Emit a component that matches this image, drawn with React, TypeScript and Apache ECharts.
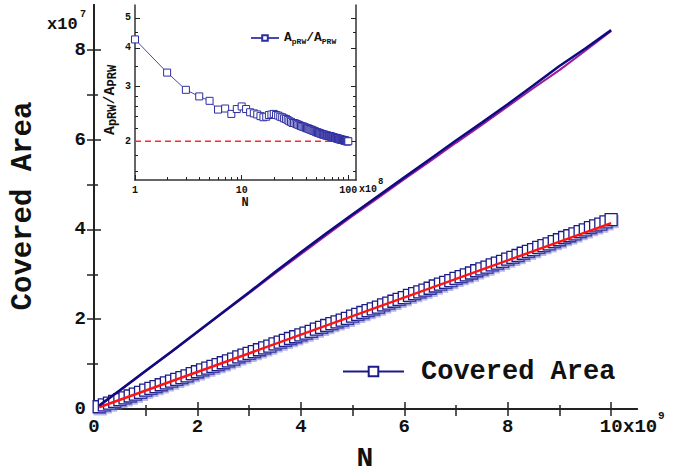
import React, { useEffect, useRef } from 'react';
import * as echarts from 'echarts';

const FONT = '"Liberation Mono", "Courier New", monospace';

// Main plot: N in units of 1e9, covered area in units of 1e7
const N_MAIN = [
  0.1, 0.2, 0.3, 0.4, 0.5, 0.6, 0.7, 0.8, 0.9, 1.0,
  1.1, 1.2, 1.3, 1.4, 1.5, 1.6, 1.7, 1.8, 1.9, 2.0,
  2.1, 2.2, 2.3, 2.4, 2.5, 2.6, 2.7, 2.8, 2.9, 3.0,
  3.1, 3.2, 3.3, 3.4, 3.5, 3.6, 3.7, 3.8, 3.9, 4.0,
  4.1, 4.2, 4.3, 4.4, 4.5, 4.6, 4.7, 4.8, 4.9, 5.0,
  5.1, 5.2, 5.3, 5.4, 5.5, 5.6, 5.7, 5.8, 5.9, 6.0,
  6.1, 6.2, 6.3, 6.4, 6.5, 6.6, 6.7, 6.8, 6.9, 7.0,
  7.1, 7.2, 7.3, 7.4, 7.5, 7.6, 7.7, 7.8, 7.9, 8.0,
  8.1, 8.2, 8.3, 8.4, 8.5, 8.6, 8.7, 8.8, 8.9, 9.0,
  9.1, 9.2, 9.3, 9.4, 9.5, 9.6, 9.7, 9.8, 9.9, 10.0,
];
const AREA = [
  0.05, 0.09, 0.13, 0.17, 0.21, 0.25, 0.29, 0.33, 0.37, 0.42,
  0.46, 0.50, 0.54, 0.58, 0.62, 0.66, 0.70, 0.74, 0.79, 0.83,
  0.87, 0.91, 0.95, 0.99, 1.03, 1.07, 1.11, 1.16, 1.20, 1.24,
  1.28, 1.32, 1.36, 1.40, 1.45, 1.49, 1.53, 1.57, 1.61, 1.65,
  1.69, 1.73, 1.78, 1.82, 1.86, 1.90, 1.94, 1.98, 2.02, 2.07,
  2.11, 2.15, 2.19, 2.23, 2.27, 2.32, 2.36, 2.40, 2.44, 2.48,
  2.53, 2.57, 2.61, 2.65, 2.69, 2.74, 2.78, 2.82, 2.86, 2.91,
  2.95, 2.99, 3.03, 3.08, 3.12, 3.16, 3.21, 3.25, 3.29, 3.34,
  3.38, 3.42, 3.47, 3.51, 3.55, 3.60, 3.64, 3.68, 3.73, 3.77,
  3.82, 3.86, 3.90, 3.95, 3.99, 4.04, 4.08, 4.12, 4.17, 4.22,
];
const FIT_X = [0.1, 10.0];
const FIT_Y = [0.04, 4.14];

const UPPER_X = [0.1, 0.5, 1, 1.5, 2, 2.5, 3, 3.5, 4, 4.5, 5, 5.5, 6, 6.5, 7, 7.5, 8, 8.5, 9, 9.5, 10];
const NAVY_Y = [0.08, 0.42, 0.85, 1.28, 1.72, 2.16, 2.60, 3.05, 3.49, 3.92, 4.34, 4.75, 5.16, 5.57, 5.98, 6.38, 6.79, 7.21, 7.64, 8.03, 8.44];
const PURPLE_Y = [0.07, 0.41, 0.84, 1.27, 1.71, 2.15, 2.58, 3.02, 3.45, 3.88, 4.30, 4.71, 5.12, 5.52, 5.93, 6.33, 6.74, 7.15, 7.55, 7.98, 8.42];

// Inset: N in units of 1e8, ratio A_pRW / A_PRW
const INSET_N = [
  1, 2, 3, 4, 5, 6, 7, 8, 9, 10,
  11, 12, 13, 14, 15, 16, 17, 18, 19, 20,
  21, 22, 23, 24, 25, 26, 27, 28, 29, 30,
  31, 32, 33, 34, 35, 36, 37, 38, 39, 40,
  41, 42, 43, 44, 45, 46, 47, 48, 49, 50,
  51, 52, 53, 54, 55, 56, 57, 58, 59, 60,
  61, 62, 63, 64, 65, 66, 67, 68, 69, 70,
  71, 72, 73, 74, 75, 76, 77, 78, 79, 80,
  81, 82, 83, 84, 85, 86, 87, 88, 89, 90,
  91, 92, 93, 94, 95, 96, 97, 98, 99, 100,
];
const RATIO = [
  4.26, 3.33, 2.93, 2.79, 2.70, 2.53, 2.55, 2.45, 2.54, 2.59,
  2.54, 2.48, 2.46, 2.44, 2.41, 2.39, 2.40, 2.43, 2.44, 2.45,
  2.43, 2.42, 2.40, 2.39, 2.37, 2.36, 2.34, 2.32, 2.31, 2.29,
  2.29, 2.28, 2.27, 2.26, 2.25, 2.24, 2.23, 2.23, 2.22, 2.21,
  2.20, 2.20, 2.19, 2.18, 2.18, 2.17, 2.16, 2.16, 2.15, 2.14,
  2.14, 2.13, 2.13, 2.12, 2.12, 2.11, 2.11, 2.10, 2.10, 2.10,
  2.09, 2.09, 2.09, 2.08, 2.08, 2.08, 2.08, 2.07, 2.07, 2.07,
  2.06, 2.06, 2.06, 2.05, 2.05, 2.05, 2.05, 2.04, 2.04, 2.04,
  2.04, 2.03, 2.03, 2.03, 2.03, 2.02, 2.02, 2.02, 2.02, 2.02,
  2.01, 2.01, 2.01, 2.01, 2.01, 2.00, 2.00, 2.00, 2.00, 2.00,
];
const REF_N = [1, 100];
const REF_Y = [2, 2];

const X_MAJOR = [0, 2, 4, 6, 8, 10];
const X_MINOR = [1, 3, 5, 7, 9];
const X_TOP = [1, 2, 3, 4, 5, 6, 7, 8, 9, 10];
const Y_MAJOR = [0, 2, 4, 6, 8];
const Y_MINOR = [1, 3, 5, 7];
const Y_RIGHT = [1, 2, 3, 4, 5, 6, 7, 8];
const IX_MAJOR = [1, 10, 100];
const IX_MINOR = [2, 3, 4, 5, 6, 7, 8, 9, 20, 30, 40, 50, 60, 70, 80, 90];
const IY_MAJOR = [2, 3, 4, 5];
const IY_MINOR = [1.6, 1.8, 2.2, 2.4, 2.6, 2.8, 3.5, 4.5];

const INK = '#222';
const NAVY = '#1c1c88';

function tickAxis(extra: any, values: number[], length: number, width = 1.5) {
  return {
    splitLine: { show: false },
    axisLine: { show: false },
    axisLabel: { show: false },
    axisTick: { show: true, inside: true, length, customValues: values, lineStyle: { color: INK, width } },
    ...extra,
  };
}

const mainLabel = { fontFamily: FONT, fontWeight: 'bold', fontSize: 19, color: '#111' };
const insetLabel = { fontFamily: FONT, fontWeight: 'bold', fontSize: 10, color: '#111' };

export default function App() {
  const ref = useRef<HTMLDivElement>(null);
  useEffect(() => {
    const chart = echarts.init(ref.current!, null, { renderer: 'svg' });
    const option: any = {
      animation: false,
      backgroundColor: '#fff',
      grid: [
        { left: 94, top: 5, width: 543, height: 404, show: false },
        { left: 135, top: 5, width: 221, height: 175, show: true, backgroundColor: '#fff', borderWidth: 0 },
      ],
      xAxis: [
        tickAxis({ type: 'value', gridIndex: 0, position: 'bottom', min: 0, max: 10.5,
          axisLine: { show: true, lineStyle: { color: INK, width: 2 } },
          axisLabel: { show: true, customValues: X_MAJOR, margin: 8, ...mainLabel } }, X_MAJOR, 7),
        tickAxis({ type: 'value', gridIndex: 0, position: 'bottom', min: 0, max: 10.5 }, X_MINOR, 4),
        tickAxis({ type: 'value', gridIndex: 0, position: 'top', min: 0, max: 10.5,
          axisLine: { show: true, lineStyle: { color: INK, width: 2 } } }, X_TOP, 7),
        tickAxis({ type: 'log', logBase: 10, gridIndex: 1, position: 'bottom', min: 1, max: 118,
          axisLine: { show: true, lineStyle: { color: '#333', width: 1.5 } },
          axisLabel: { show: true, customValues: IX_MAJOR, margin: 5, ...insetLabel } }, IX_MAJOR, 5, 1),
        tickAxis({ type: 'log', logBase: 10, gridIndex: 1, position: 'bottom', min: 1, max: 118 }, IX_MINOR, 3, 1),
      ],
      yAxis: [
        tickAxis({ type: 'value', gridIndex: 0, position: 'left', min: 0, max: 9,
          axisLine: { show: true, lineStyle: { color: INK, width: 2 } },
          axisLabel: { show: true, customValues: Y_MAJOR, margin: 8, ...mainLabel } }, Y_MAJOR, 7),
        tickAxis({ type: 'value', gridIndex: 0, position: 'left', min: 0, max: 9 }, Y_MINOR, 4),
        tickAxis({ type: 'value', gridIndex: 0, position: 'right', min: 0, max: 9,
          axisLine: { show: true, lineStyle: { color: INK, width: 2 } } }, Y_RIGHT, 7),
        tickAxis({ type: 'log', logBase: 10, gridIndex: 1, position: 'left', min: 1.5, max: 5.5,
          axisLine: { show: true, lineStyle: { color: '#333', width: 1.5 } },
          axisLabel: { show: true, customValues: IY_MAJOR, margin: 4, ...insetLabel } }, IY_MAJOR, 5, 1),
        tickAxis({ type: 'log', logBase: 10, gridIndex: 1, position: 'left', min: 1.5, max: 5.5 }, IY_MINOR, 3, 1),
        tickAxis({ type: 'log', logBase: 10, gridIndex: 1, position: 'right', min: 1.5, max: 5.5,
          axisLine: { show: true, lineStyle: { color: '#333', width: 1.5 } } }, IY_MAJOR, 5, 1),
        tickAxis({ type: 'log', logBase: 10, gridIndex: 1, position: 'right', min: 1.5, max: 5.5 }, IY_MINOR, 3, 1),
      ],
      legend: [
        {
          data: ['Covered Area'], left: 342, top: 358, padding: 0, selectedMode: false,
          itemWidth: 61, itemHeight: 12,
          formatter: '{t|Covered Area}',
          textStyle: { rich: { t: { fontFamily: FONT, fontWeight: 'bold', fontSize: 27, color: '#111', padding: [0, 0, 0, 12] } } },
        },
        {
          data: ['ApRW/APRW'], left: 250, top: 28, padding: 0, selectedMode: false,
          itemWidth: 28, itemHeight: 7,
          formatter: () => '{a|A}{s|pRW}{a|/A}{s|PRW}',
          textStyle: {
            rich: {
              a: { fontFamily: FONT, fontWeight: 'bold', fontSize: 13, color: '#111', lineHeight: 14, verticalAlign: 'top' },
              s: { fontFamily: FONT, fontWeight: 'bold', fontSize: 8, color: '#111', lineHeight: 8, verticalAlign: 'bottom', padding: [9, 0, 0, 0] },
            },
          },
        },
      ],
      series: [
        {
          type: 'line', name: 'Covered Area', xAxisIndex: 0, yAxisIndex: 0,
          data: N_MAIN.map((x, i) => [x, AREA[i]]),
          symbol: 'rect', symbolSize: 12, showSymbol: true,
          itemStyle: { color: '#fff', borderColor: NAVY, borderWidth: 1.3, shadowColor: 'rgba(100,100,200,0.45)', shadowOffsetX: 1, shadowOffsetY: 2, shadowBlur: 0 },
          lineStyle: { color: NAVY, width: 1 }, z: 2,
        },
        {
          type: 'line', name: 'fit', xAxisIndex: 0, yAxisIndex: 0,
          data: FIT_X.map((x, i) => [x, FIT_Y[i]]), symbol: 'none',
          lineStyle: { color: '#ff1414', width: 2.5 }, z: 4,
        },
        {
          type: 'line', name: 'purple', xAxisIndex: 0, yAxisIndex: 0,
          data: UPPER_X.map((x, i) => [x, PURPLE_Y[i]]), symbol: 'none',
          lineStyle: { color: '#9c1a9c', width: 2 }, z: 3,
        },
        {
          type: 'line', name: 'navy', xAxisIndex: 0, yAxisIndex: 0,
          data: UPPER_X.map((x, i) => [x, NAVY_Y[i]]), symbol: 'none',
          lineStyle: { color: '#0c0c80', width: 2.5 }, z: 4,
        },
        {
          type: 'line', name: 'ref', xAxisIndex: 3, yAxisIndex: 3,
          data: REF_N.map((x, i) => [x, REF_Y[i]]), symbol: 'none',
          lineStyle: { color: '#ff2a2a', width: 1.5, type: [6, 4] }, z: 5,
        },
        {
          type: 'line', name: 'ApRW/APRW', xAxisIndex: 3, yAxisIndex: 3,
          data: INSET_N.map((x, i) => [x, RATIO[i]]),
          symbol: 'rect', symbolSize: 7, showSymbol: true,
          itemStyle: { color: '#fff', borderColor: '#2e2ea0', borderWidth: 1 },
          lineStyle: { color: '#4848b0', width: 1 }, z: 6,
        },
      ],
      graphic: [
        { type: 'text', x: 23, y: 206, rotation: Math.PI / 2, z: 10,
          style: { text: 'Covered Area', fontFamily: FONT, fontWeight: 'bold', fontSize: 29, fill: '#111', align: 'center', verticalAlign: 'middle', textAlign: 'center', textVerticalAlign: 'middle' } },
        { type: 'text', x: 365, y: 458, z: 10,
          style: { text: 'N', fontFamily: FONT, fontWeight: 'bold', fontSize: 28, fill: '#111', align: 'center', verticalAlign: 'middle', textAlign: 'center', textVerticalAlign: 'middle' } },
        { type: 'text', x: 47, y: 24, z: 10,
          style: { text: 'x10', fontFamily: FONT, fontWeight: 'bold', fontSize: 17, fill: '#111', align: 'left', verticalAlign: 'middle', textAlign: 'left', textVerticalAlign: 'middle' } },
        { type: 'text', x: 80, y: 14, z: 10,
          style: { text: '7', fontFamily: FONT, fontWeight: 'bold', fontSize: 10, fill: '#111', align: 'left', verticalAlign: 'middle', textAlign: 'left', textVerticalAlign: 'middle' } },
        { type: 'text', x: 623, y: 427, z: 10,
          style: { text: 'x10', fontFamily: FONT, fontWeight: 'bold', fontSize: 19, fill: '#111', align: 'left', verticalAlign: 'middle', textAlign: 'left', textVerticalAlign: 'middle' } },
        { type: 'text', x: 658, y: 416, z: 10,
          style: { text: '9', fontFamily: FONT, fontWeight: 'bold', fontSize: 11, fill: '#111', align: 'left', verticalAlign: 'middle', textAlign: 'left', textVerticalAlign: 'middle' } },
        { type: 'text', x: 359, y: 189, z: 10,
          style: { text: 'x10', fontFamily: FONT, fontWeight: 'bold', fontSize: 10, fill: '#111', align: 'left', verticalAlign: 'middle', textAlign: 'left', textVerticalAlign: 'middle' } },
        { type: 'text', x: 378, y: 182, z: 10,
          style: { text: '8', fontFamily: FONT, fontWeight: 'bold', fontSize: 9, fill: '#111', align: 'left', verticalAlign: 'middle', textAlign: 'left', textVerticalAlign: 'middle' } },
        { type: 'text', x: 245, y: 203, z: 10,
          style: { text: 'N', fontFamily: FONT, fontWeight: 'bold', fontSize: 12, fill: '#111', align: 'center', verticalAlign: 'middle', textAlign: 'center', textVerticalAlign: 'middle' } },
        { type: 'text', x: 111, y: 100, rotation: Math.PI / 2, z: 10,
          style: {
            text: '{a|A}{s|pRW}{a|/A}{s|PRW}', align: 'center', verticalAlign: 'middle', textAlign: 'center', textVerticalAlign: 'middle',
            rich: {
              a: { fontFamily: FONT, fontWeight: 'bold', fontSize: 15, fill: '#111', color: '#111', lineHeight: 16, verticalAlign: 'top' },
              s: { fontFamily: FONT, fontWeight: 'bold', fontSize: 12, fill: '#111', color: '#111', lineHeight: 12, verticalAlign: 'bottom', padding: [8, 0, 0, 0] },
            },
          } },
      ],
    };
    chart.setOption(option);
    return () => chart.dispose();
  }, []);
  return <div ref={ref} style={{ position: 'absolute', left: 0, top: 0, width: 685, height: 472 }} />;
}
